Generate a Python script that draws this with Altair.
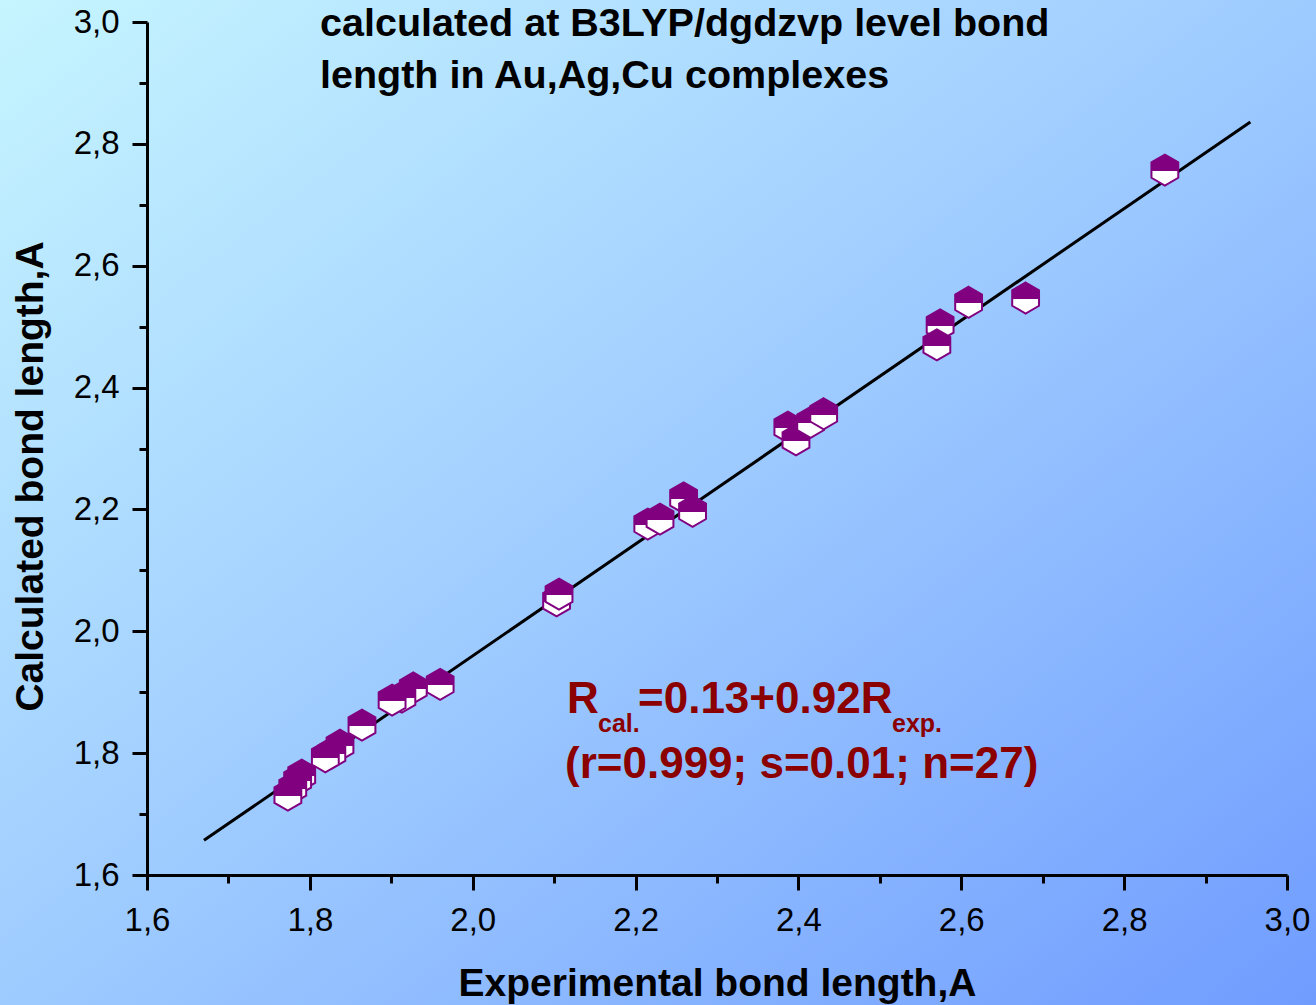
import altair as alt
import pandas as pd

# Experimental vs calculated bond lengths
exp_len = [2.850, 2.679, 2.609, 2.574, 2.570, 2.387, 2.397, 2.415, 2.431,
           2.215, 2.230, 2.259, 2.270, 2.103, 2.106, 1.960, 1.927, 1.913,
           1.901, 1.864, 1.837, 1.827, 1.819, 1.790, 1.785, 1.779, 1.773]
calc_len = [2.757, 2.547, 2.540, 2.503, 2.470, 2.335, 2.314, 2.343, 2.357,
            2.176, 2.184, 2.219, 2.197, 2.050, 2.061, 1.913, 1.907, 1.892,
            1.887, 1.846, 1.813, 1.800, 1.794, 1.764, 1.756, 1.743, 1.731]

# regression line end points
line_x = [1.67, 2.955]
line_y = [1.657, 2.836]

tick_values = [1.6, 1.7, 1.8, 1.9, 2.0, 2.1, 2.2, 2.3, 2.4, 2.5, 2.6, 2.7, 2.8, 2.9, 3.0]

title_lines = ["calculated at B3LYP/dgdzvp level bond", "length in Au,Ag,Cu complexes"]
x_title = "Experimental bond length,A"
y_title = "Calculated bond length,A"

W, H = 1140, 853
PL, PT = 147, 22
FONT = "Liberation Sans"
PURPLE = "#800080"
DARKRED = "#8B0000"

pts = pd.DataFrame({"exp": exp_len, "calc": calc_len})
line_df = pd.DataFrame({"exp": line_x, "calc": line_y})

major_test = "round(datum.value*10) % 2 == 0"
label_expr = f"{major_test} ? replace(format(datum.value, '.1f'), '.', ',') : ''"

x_scale = alt.Scale(domain=[1.6, 3.0], nice=False, zero=False)
y_scale = alt.Scale(domain=[1.6, 3.0], nice=False, zero=False)

x_axis = alt.Axis(
    values=tick_values, labelExpr=label_expr, title=x_title, grid=False, zindex=2,
    domainColor="black", domainWidth=3, tickColor="black", tickWidth=3,
    tickSize={"condition": {"test": major_test, "value": 15}, "value": 8},
    labelFont=FONT, labelFontSize=33, labelColor="black", labelFlush=False,
    labelOverlap=False, labelBaseline="alphabetic", labelPadding=40,
    titleFont=FONT, titleFontSize=39, titleFontWeight="bold", titleColor="black",
    titleBaseline="alphabetic", titleY=120, titleX=W / 2,
)
y_axis = alt.Axis(
    values=tick_values, labelExpr=label_expr, title=y_title, grid=False, zindex=2,
    domainColor="black", domainWidth=3, tickColor="black", tickWidth=3,
    tickSize={"condition": {"test": major_test, "value": 15}, "value": 8},
    labelFont=FONT, labelFontSize=33, labelColor="black", labelFlush=False,
    labelOverlap=False, labelPadding=13, labelAlign="right", labelBaseline="middle",
    titleFont=FONT, titleFontSize=39, titleFontWeight="bold", titleColor="black",
    titleBaseline="alphabetic", titleAngle=270, titleX=42 - PL, titleY=476 - PT,
    titleAlign="center",
)

one = alt.Data(values=[{}])

bg = alt.Chart(one).mark_rect(
    fill=alt.Gradient(
        gradient="linear", x1=0, y1=0, x2=1, y2=1,
        stops=[alt.GradientStop(offset=0, color="#C6F5FF"),
               alt.GradientStop(offset=0.5, color="#9ECBFF"),
               alt.GradientStop(offset=1, color="#709CFF")],
    ),
    strokeWidth=0,
).encode(x=alt.value(-PL), x2=alt.value(1316 - PL), y=alt.value(-PT), y2=alt.value(1005 - PT))

line = alt.Chart(line_df).mark_line(color="black", strokeWidth=3).encode(
    x=alt.X("exp:Q", scale=x_scale, axis=x_axis),
    y=alt.Y("calc:Q", scale=y_scale, axis=y_axis),
)

hexagon = "M0,-1.155L1,-0.577L1,0.577L0,1.155L-1,0.577L-1,-0.577Z"
points = alt.Chart(pts).mark_point(
    shape=hexagon, size=720, filled=True, opacity=1,
    fill=alt.Gradient(
        gradient="linear", x1=0, y1=0, x2=0, y2=1,
        stops=[alt.GradientStop(offset=0, color=PURPLE),
               alt.GradientStop(offset=0.53, color=PURPLE),
               alt.GradientStop(offset=0.53, color="white"),
               alt.GradientStop(offset=1, color="white")],
    ),
    stroke=PURPLE, strokeWidth=2,
).encode(
    x=alt.X("exp:Q", scale=x_scale),
    y=alt.Y("calc:Q", scale=y_scale),
)


def label(text, px, py, size, color="black"):
    return alt.Chart(one).mark_text(
        text=text, font=FONT, fontSize=size, fontWeight="bold", color=color,
        align="left", baseline="alphabetic",
    ).encode(x=alt.value(px - PL), y=alt.value(py - PT))


texts = [
    label(title_lines[0], 320, 36, 39.5),
    label(title_lines[1], 320, 88, 39.5),
    label("R", 567, 713, 44, DARKRED),
    label("cal.", 598, 732, 25, DARKRED),
    label("=0.13+0.92R", 638, 713, 44, DARKRED),
    label("exp.", 892, 732, 25, DARKRED),
    label("(r=0.999; s=0.01; n=27)", 565, 778, 44, DARKRED),
]

chart = alt.layer(bg, line, points, *texts).properties(
    width=W, height=H,
    autosize=alt.AutoSizeParams(type="none"),
    padding={"left": PL, "top": PT, "right": 1316 - PL - W, "bottom": 1005 - PT - H},
    background="#A0CDFF",
).configure_view(stroke=None)

chart.save("out.html", embed_options={"renderer": "svg", "actions": False})
